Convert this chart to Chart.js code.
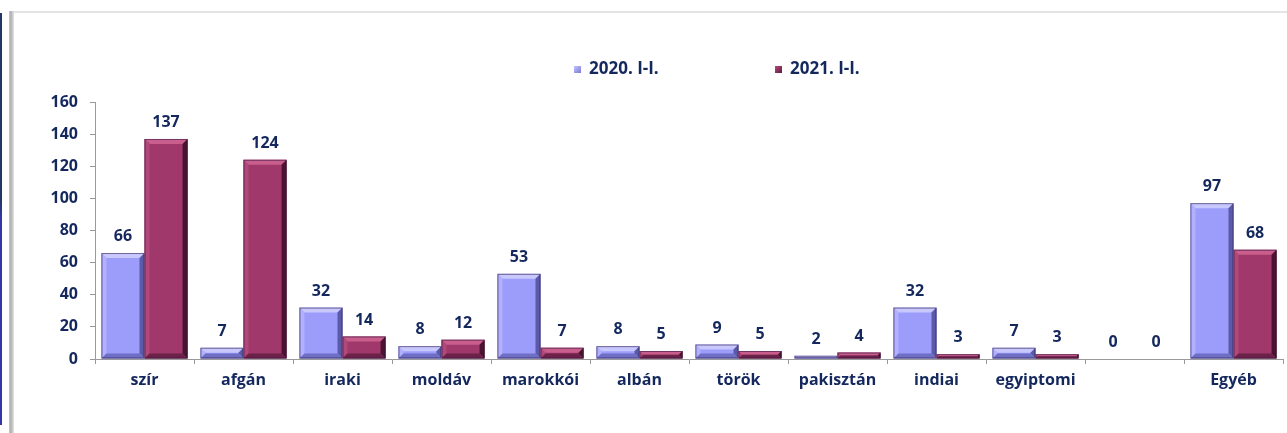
<!DOCTYPE html>
<html>
<head>
<meta charset="utf-8">
<script src="https://cdn.jsdelivr.net/npm/chart.js@4.4.1/dist/chart.umd.min.js"></script>
<style>
    html, body { margin: 0; padding: 0; background: #fff; }
    body { width: 1287px; height: 433px; position: relative; overflow: hidden; font-family: "Open Sans", Lato, sans-serif; }
    .edge { position: absolute; left: 0; top: 13px; width: 2px; height: 412px; background: linear-gradient(#1f3864, #1f3864 45%, #3535a8 50%, #3535a8); }
    .frame-top { position: absolute; left: 9px; top: 11px; right: 0; height: 2px; background: #e4e4e4; }
    .frame-left { position: absolute; left: 9px; top: 11px; width: 5px; bottom: 0; background: linear-gradient(90deg, #c8c8c8, #b0b0b0 40%, #e6e6e6); }
    #wrap { position: absolute; left: 14px; top: 13px; width: 1273px; height: 420px; }
    .legend { position: absolute; top: 56px; font-weight: bold; font-size: 17px; color: #14285e; line-height: 24px; }
    .legend i { display: inline-block; width: 7px; height: 7px; margin-right: 8px; vertical-align: 1px; }
</style>
</head>
<body>
<div class="edge"></div>
<div class="frame-top"></div>
<div class="frame-left"></div>
<div id="wrap"><canvas id="chart"></canvas></div>
<div class="legend" style="left:574px"><i style="background:linear-gradient(135deg,#c4c4ff,#7a7ad6)"></i>2020. I-I.</div>
<div class="legend" style="left:775px"><i style="background:linear-gradient(135deg,#b84a7c,#5e1a3c)"></i>2021. I-I.</div>
<script>
const categories = ['szír', 'afgán', 'iraki', 'moldáv', 'marokkói', 'albán', 'török', 'pakisztán', 'indiai', 'egyiptomi', '', 'Egyéb'];
const values2020 = [66, 7, 32, 8, 53, 8, 9, 2, 32, 7, 0, 97];
const values2021 = [137, 124, 14, 12, 7, 5, 5, 4, 3, 3, 0, 68];
const seriesNames = ['2020. I-I.', '2021. I-I.'];
const yMin = 0, yMax = 160, yStep = 20;

const textColor = '#14285e';
const fontFamily = '"Open Sans", Lato, sans-serif';

// face, top light, left light, right dark, bottom dark
const bevelColors = [
    { face: '#9c9cfb', top: '#c8c8ff', left: '#b1b1ff', right: '#5a5aa8', bottom: '#6e6ec4' },
    { face: '#a0386b', top: '#c95e8d', left: '#b04879', right: '#4a1430', bottom: '#6c2148' }
];

// fake 3D bevel on each bar, like the Office chart style
const bevelPlugin = {
    id: 'bevel',
    afterDatasetsDraw(chart) {
        const ctx = chart.ctx;
        chart.data.datasets.forEach((ds, di) => {
            const c = bevelColors[di];
            chart.getDatasetMeta(di).data.forEach(bar => {
                const h = bar.base - bar.y;
                if (h <= 0.5) return;
                const l = bar.x - bar.width / 2, r = bar.x + bar.width / 2;
                const t = bar.y, b = bar.base;
                const d = Math.min(5, h / 2);
                const poly = (pts, col) => {
                    ctx.beginPath();
                    ctx.moveTo(pts[0][0], pts[0][1]);
                    for (let i = 1; i < pts.length; i++) ctx.lineTo(pts[i][0], pts[i][1]);
                    ctx.closePath();
                    ctx.fillStyle = col;
                    ctx.fill();
                };
                ctx.save();
                poly([[l, t], [r, t], [r - d, t + d], [l + d, t + d]], c.top);
                poly([[l, t], [l + d, t + d], [l + d, b - d], [l, b]], c.left);
                poly([[r, t], [r, b], [r - d, b - d], [r - d, t + d]], c.right);
                poly([[l, b], [l + d, b - d], [r - d, b - d], [r, b]], c.bottom);
                ctx.strokeStyle = 'rgba(40,20,60,0.55)';
                ctx.lineWidth = 1;
                ctx.strokeRect(l + 0.5, t + 0.5, r - l - 1, b - t - 1);
                ctx.restore();
            });
        });
    }
};

// value labels above the bars
const valueLabels = {
    id: 'valueLabels',
    afterDraw(chart) {
        const ctx = chart.ctx;
        ctx.save();
        ctx.font = 'bold 16px ' + fontFamily;
        ctx.fillStyle = textColor;
        ctx.textAlign = 'center';
        ctx.textBaseline = 'alphabetic';
        chart.data.datasets.forEach((ds, di) => {
            chart.getDatasetMeta(di).data.forEach((bar, i) => {
                ctx.fillText(String(ds.data[i]), bar.x, bar.y - 12);
            });
        });
        ctx.restore();
    }
};

new Chart(document.getElementById('chart'), {
    type: 'bar',
    data: {
        labels: categories,
        datasets: [
            { label: seriesNames[0], data: values2020, backgroundColor: bevelColors[0].face, categoryPercentage: 0.87, barPercentage: 1 },
            { label: seriesNames[1], data: values2021, backgroundColor: bevelColors[1].face, categoryPercentage: 0.87, barPercentage: 1 }
        ]
    },
    options: {
        responsive: true,
        maintainAspectRatio: false,
        animation: false,
        layout: { padding: { top: 89, right: 4, left: 0, bottom: 0 } },
        plugins: {
            legend: { display: false },
            tooltip: { enabled: false }
        },
        scales: {
            x: {
                grid: { display: true, drawOnChartArea: false, tickLength: 5, color: '#9a9a9a', offset: true },
                border: { color: '#9a9a9a' },
                ticks: { color: textColor, font: { family: fontFamily, size: 16, weight: 'bold' }, padding: 7, maxRotation: 0, autoSkip: false },
                afterFit(scale) { scale.height = 74; }
            },
            y: {
                min: yMin,
                max: yMax,
                grid: { display: true, drawOnChartArea: false, tickLength: 5, color: '#9a9a9a' },
                border: { color: '#9a9a9a' },
                ticks: { stepSize: yStep, color: textColor, font: { family: fontFamily, size: 16, weight: 'bold' }, padding: 12 },
                afterFit(scale) { scale.width = 81; }
            }
        }
    },
    plugins: [bevelPlugin, valueLabels]
});
</script>
</body>
</html>
